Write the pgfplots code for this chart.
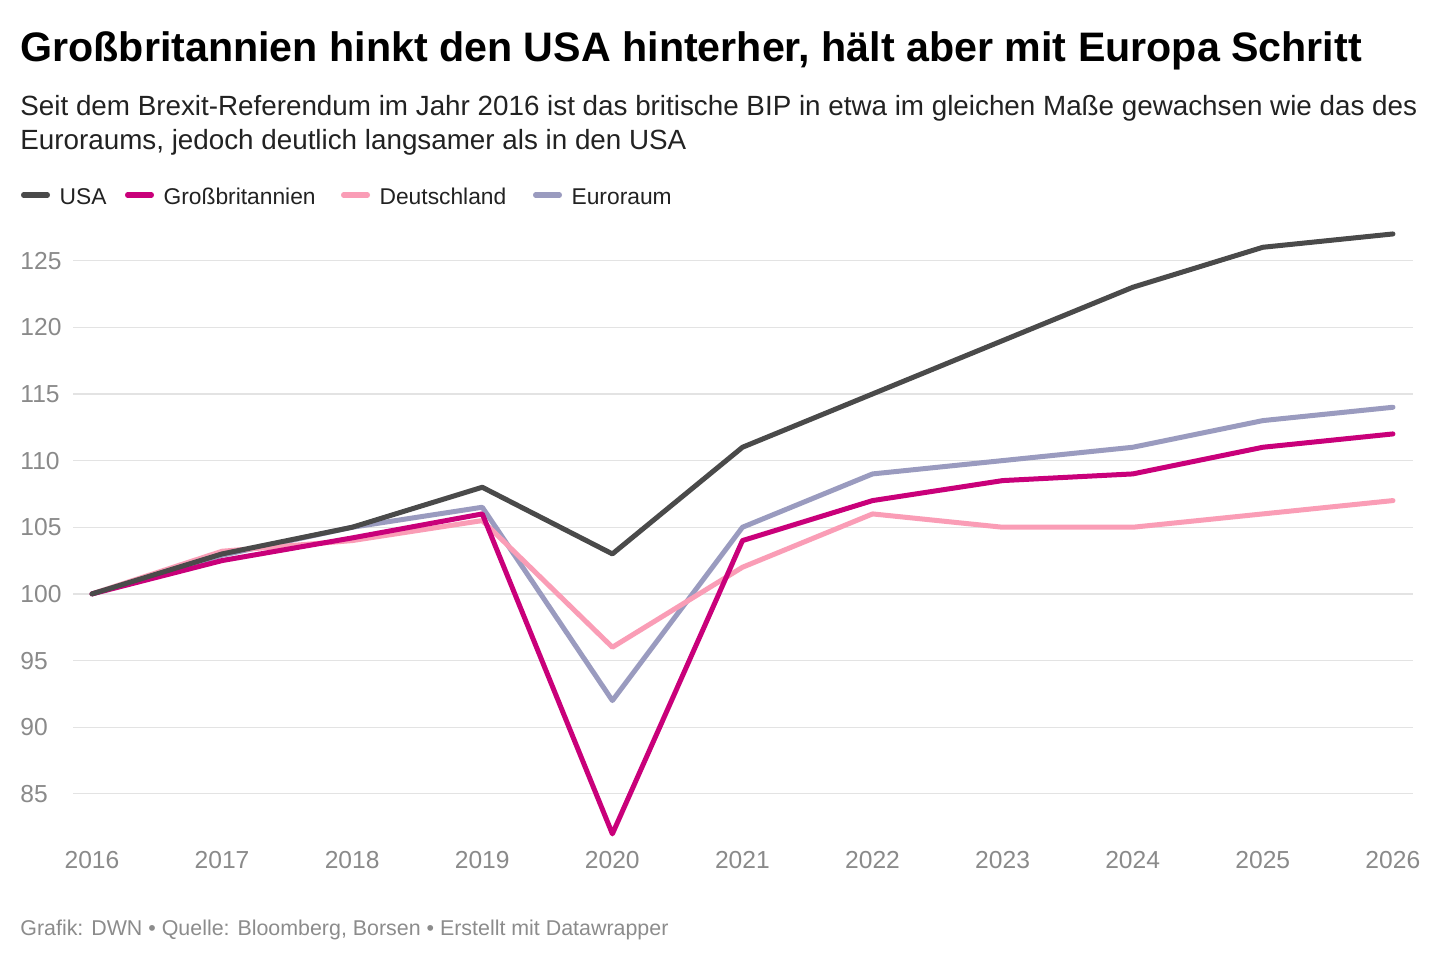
\documentclass[border=0pt]{standalone}
\usepackage{pgfplots}
\pgfplotsset{compat=1.18}
\usepackage{fontspec}
\setmainfont{Liberation Sans}
\definecolor{cusa}{HTML}{4A4A4A}
\definecolor{cgb}{HTML}{C9007A}
\definecolor{cde}{HTML}{FA9DB6}
\definecolor{ceu}{HTML}{9A9BBF}
\definecolor{cgrid}{HTML}{E3E3E3}
\definecolor{ctick}{HTML}{8A8A8A}
\definecolor{cfoot}{HTML}{8C8C8C}
\definecolor{ctext}{HTML}{222222}
\begin{document}
\begin{tikzpicture}
\path[use as bounding box, fill=white] (0pt,0pt) rectangle (720pt,-480pt);
% title, subtitle
\node[anchor=base west, inner sep=0pt, font=\fontsize{20.6}{24}\selectfont\bfseries] at (10pt,-30.5pt) {Großbritannien hinkt den USA hinterher, hält aber mit Europa Schritt};
\node[anchor=base west, inner sep=0pt, font=\fontsize{13.9}{16}\selectfont, text=ctext] at (10pt,-57.5pt) {Seit dem Brexit-Referendum im Jahr 2016 ist das britische BIP in etwa im gleichen Maße gewachsen wie das des};
\node[anchor=base west, inner sep=0pt, font=\fontsize{13.9}{16}\selectfont, text=ctext] at (10pt,-74.5pt) {Euroraums, jedoch deutlich langsamer als in den USA};
% legend
\begin{scope}[line width=2.6pt, line cap=round]
\draw[cusa] (11.8pt,-97.5pt) -- (23.7pt,-97.5pt);
\node[anchor=base west, inner sep=0pt, font=\fontsize{11.4}{13}\selectfont, text=ctext] at (28.5pt,-102pt) {USA};
\draw[cgb] (63.8pt,-97.5pt) -- (75.7pt,-97.5pt);
\node[anchor=base west, inner sep=0pt, font=\fontsize{11.4}{13}\selectfont, text=ctext] at (80.5pt,-102pt) {Großbritannien};
\draw[cde] (171.8pt,-97.5pt) -- (183.7pt,-97.5pt);
\node[anchor=base west, inner sep=0pt, font=\fontsize{11.4}{13}\selectfont, text=ctext] at (188.5pt,-102pt) {Deutschland};
\draw[ceu] (267.8pt,-97.5pt) -- (279.7pt,-97.5pt);
\node[anchor=base west, inner sep=0pt, font=\fontsize{11.4}{13}\selectfont, text=ctext] at (284.5pt,-102pt) {Euroraum};
\end{scope}
% footer
\node[anchor=base west, inner sep=0pt, font=\fontsize{10.7}{12}\selectfont, text=cfoot] at (10pt,-467.5pt) {Grafik: DWN • Quelle: Bloomberg, Borsen • Erstellt mit Datawrapper};
\begin{axis}[
  at={(36.5pt,-423.6pt)}, anchor=south west,
  scale only axis, width=670pt, height=313.3pt,
  xmin=2015.854, xmax=2026.154, ymin=81, ymax=128,
  axis line style={draw=none},
  tick style={draw=none},
  xtick={2016,...,2026},
  ytick={85,90,...,125},
  ymajorgrids, grid style={cgrid, line width=0.6pt},
  x tick label style={/pgf/number format/1000 sep={}, font=\fontsize{12.3}{14}\selectfont, text=ctick, yshift=1.5pt},
  yticklabel style={anchor=west, inner xsep=0pt, xshift=-26.5pt, font=\fontsize{12.3}{14}\selectfont, text=ctick},
  /pgf/number format/assume math mode=true,
  clip=false,
  every axis plot/.append style={line width=2.5pt, line join=round, line cap=round, mark=none},
]
\addplot[ceu] coordinates {(2016,100) (2017,102.9) (2018,105) (2019,106.5) (2020,92) (2021,105) (2022,109) (2023,110) (2024,111) (2025,113) (2026,114)};
\addplot[cde] coordinates {(2016,100) (2017,103.2) (2018,104) (2019,105.5) (2020,96) (2021,102) (2022,106) (2023,105) (2024,105) (2025,106) (2026,107)};
\addplot[cgb] coordinates {(2016,100) (2017,102.5) (2018,104.2) (2019,106) (2020,82) (2021,104) (2022,107) (2023,108.5) (2024,109) (2025,111) (2026,112)};
\addplot[cusa] coordinates {(2016,100) (2017,103) (2018,105) (2019,108) (2020,103) (2021,111) (2022,115) (2023,119) (2024,123) (2025,126) (2026,127)};
\end{axis}
\end{tikzpicture}
\end{document}
